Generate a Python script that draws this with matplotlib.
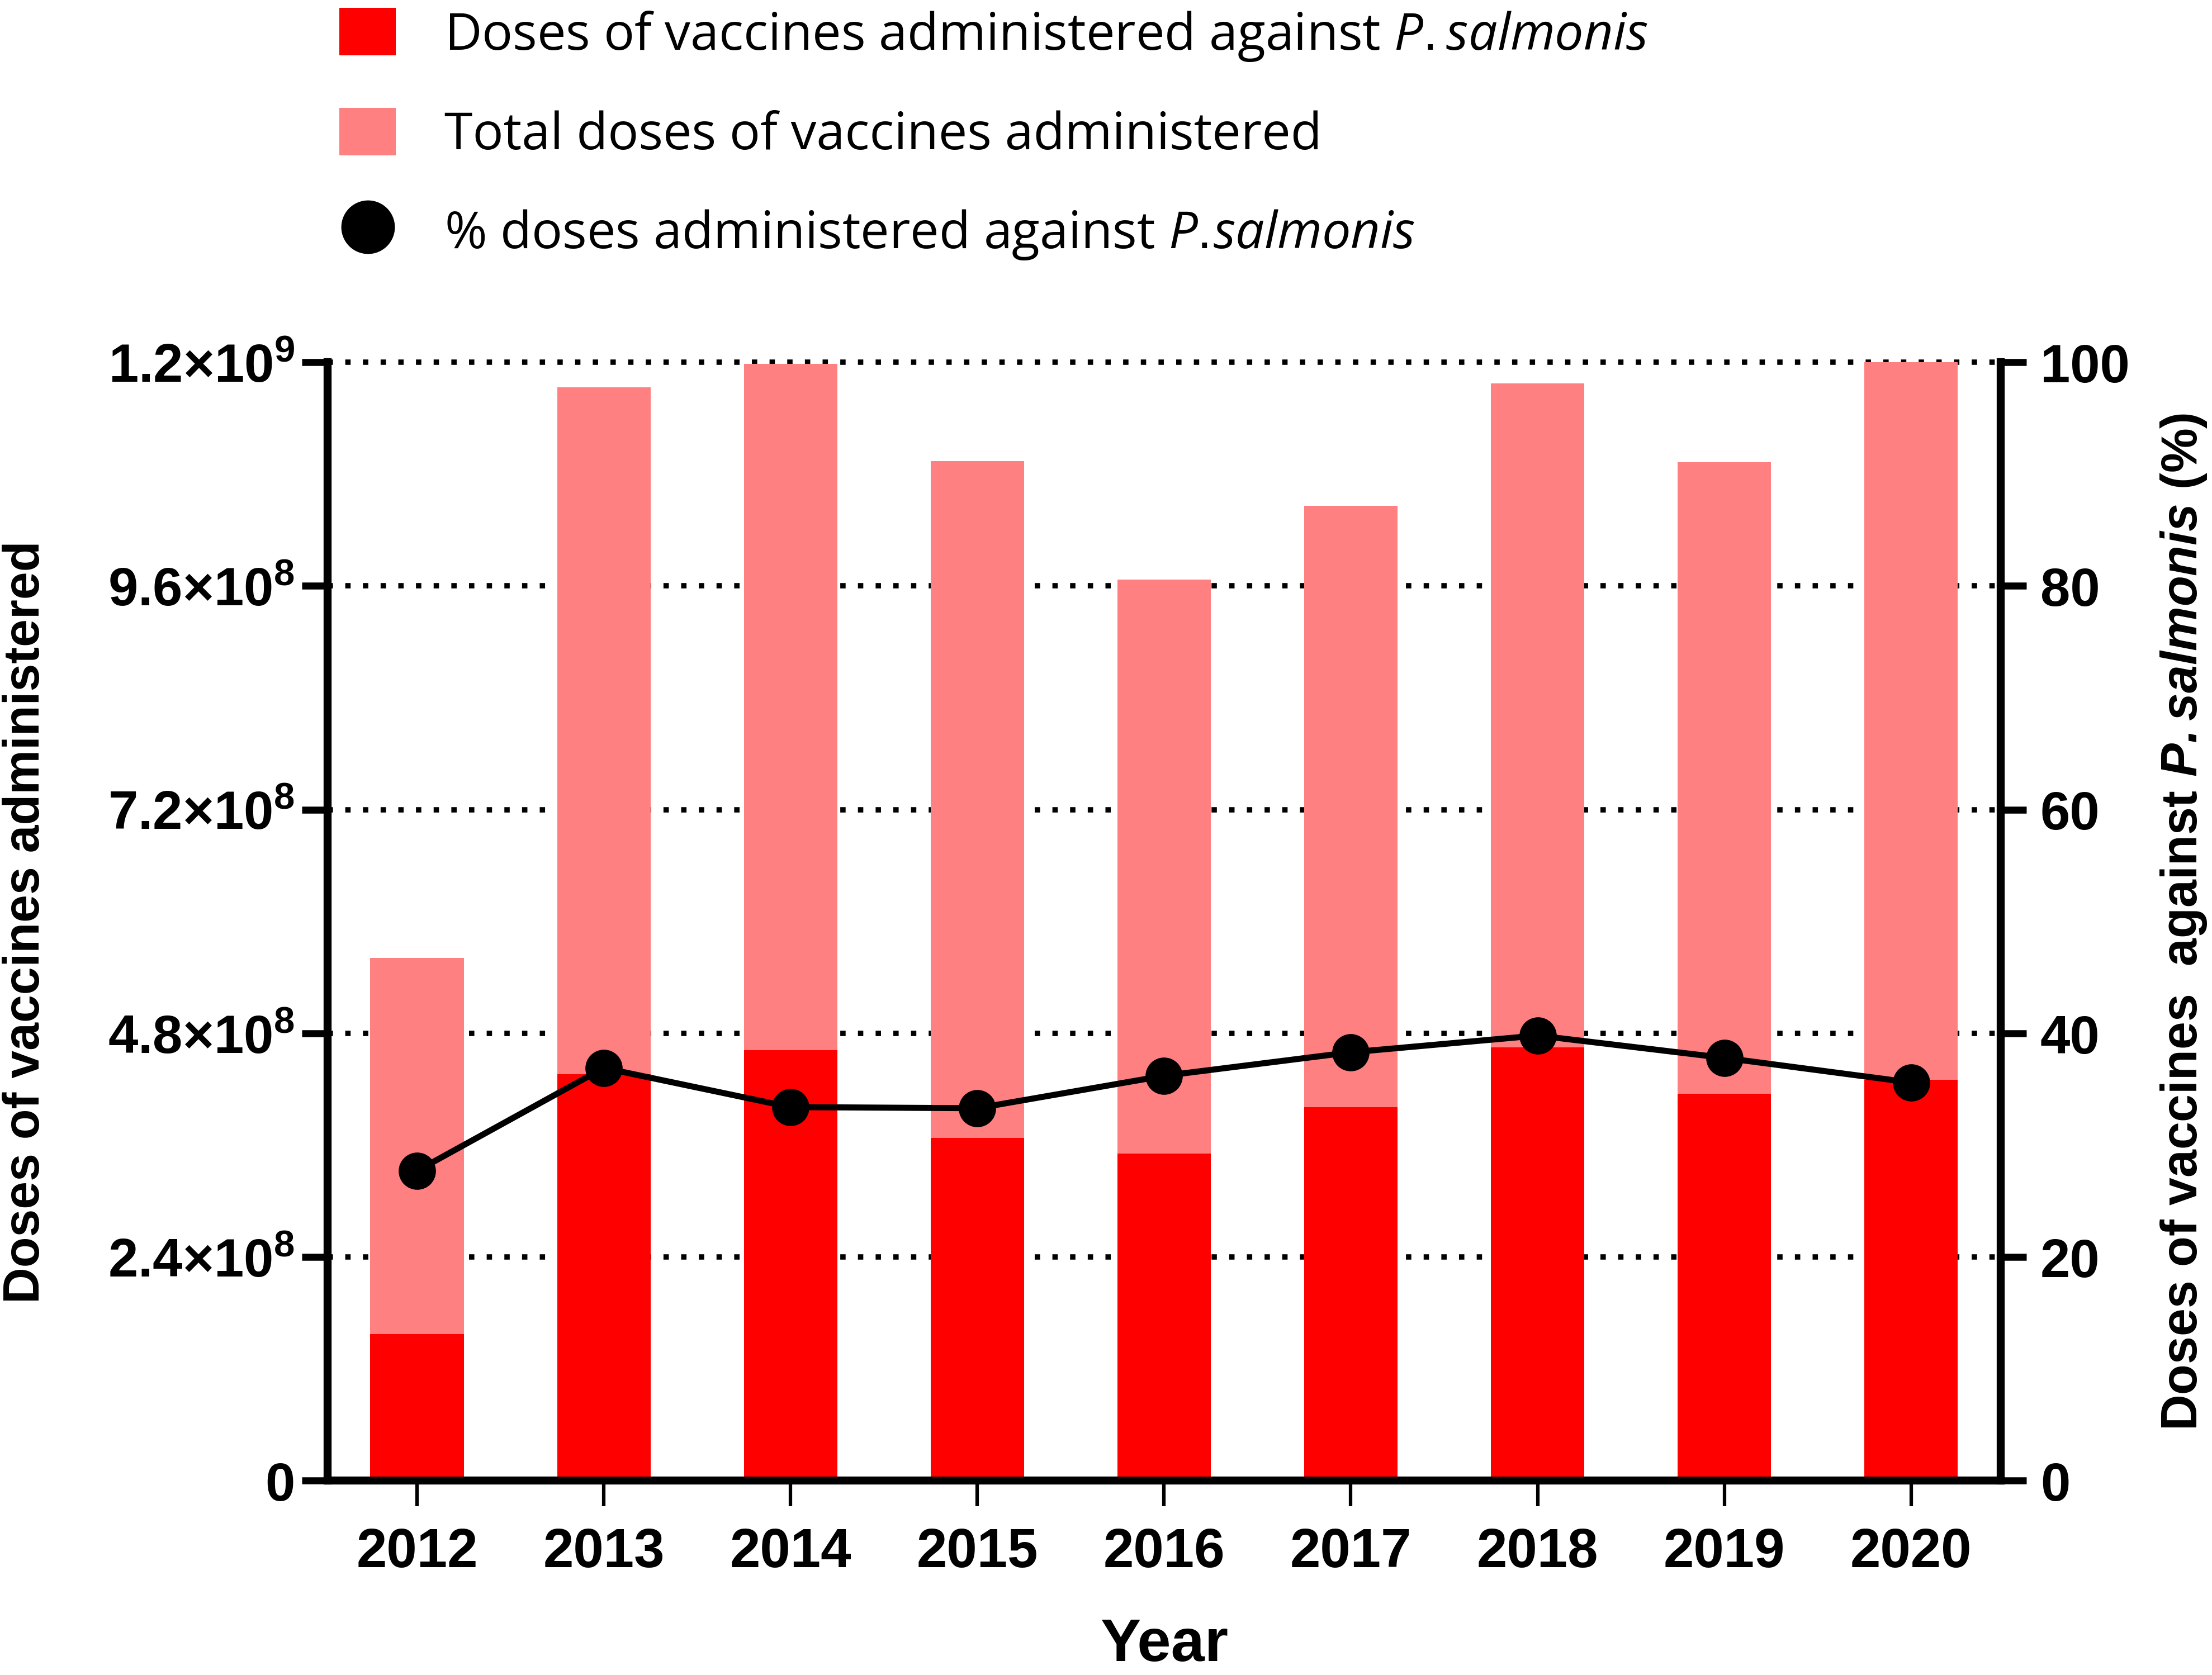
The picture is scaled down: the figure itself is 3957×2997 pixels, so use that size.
import matplotlib
matplotlib.use("Agg")
import matplotlib.pyplot as plt
from matplotlib.patches import Patch
from matplotlib.lines import Line2D

# values
years = ["2012", "2013", "2014", "2015", "2016", "2017", "2018", "2019", "2020"]
total_doses = [5.61e8, 1.173e9, 1.198e9, 1.094e9, 9.67e8, 1.046e9, 1.177e9, 1.093e9, 1.2e9]
psalmonis_doses = [1.57e8, 4.36e8, 4.62e8, 3.68e8, 3.51e8, 4.01e8, 4.65e8, 4.15e8, 4.30e8]
pct_psalmonis = [27.7, 36.9, 33.4, 33.3, 36.2, 38.3, 39.8, 37.8, 35.6]

left_ticks = [0, 2.4e8, 4.8e8, 7.2e8, 9.6e8, 1.2e9]
left_ticklabels = ["0", r"2.4×10$^{\mathbf{8}}$", r"4.8×10$^{\mathbf{8}}$", r"7.2×10$^{\mathbf{8}}$",
                   r"9.6×10$^{\mathbf{8}}$", r"1.2×10$^{\mathbf{9}}$"]
right_ticks = [0, 20, 40, 60, 80, 100]

plt.rcParams['font.family'] = ['Liberation Sans', 'DejaVu Sans']
plt.rcParams['mathtext.fontset'] = 'custom'
plt.rcParams['mathtext.rm'] = 'Liberation Sans'
plt.rcParams['mathtext.bf'] = 'Liberation Sans:bold'
plt.rcParams['mathtext.it'] = 'Open Sans:italic'
try:
    plt.rcParams['mathtext.bfit'] = 'Liberation Sans:italic:bold'
    bfit = True
except KeyError:
    bfit = False

RED = "#ff0000"
PINK = "#ff8080"

fig = plt.figure(figsize=(13.19, 9.993), dpi=300)
ax = fig.add_axes([0.148, 0.116, 0.7565, 0.6675])

x = list(range(len(years)))
ax.bar(x, total_doses, width=0.5, color=PINK, zorder=2)
ax.bar(x, psalmonis_doses, width=0.5, color=RED, zorder=3)

ax.set_xlim(-0.48, 8.48)
ax.set_ylim(0, 1.2e9)
ax.set_yticks(left_ticks)
ax.set_yticklabels(left_ticklabels, fontsize=23, fontweight='bold')
ax.set_xticks(x)
ax.set_xticklabels(years, fontsize=23.5, fontweight='bold')

ax.set_axisbelow(True)
ax.yaxis.grid(True, color='black', linestyle=(0, (1, 2.3)), linewidth=2.3, zorder=1, clip_on=False)

for side in ['left', 'bottom', 'right']:
    ax.spines[side].set_linewidth(3.4)
ax.spines['top'].set_visible(False)
ax.tick_params(axis='y', direction='out', length=11, width=3, pad=3)
ax.tick_params(axis='x', direction='out', length=11, width=1.5, pad=9)

ax.set_ylabel("Doses of vaccines administered", fontsize=21.5, fontweight='bold')
ax.yaxis.set_label_coords(-0.166, 0.5)
ax.set_xlabel("Year", fontsize=26, fontweight='bold')
ax.xaxis.set_label_coords(0.5, -0.122)

ax2 = ax.twinx()
ax2.set_ylim(0, 100)
ax2.set_yticks(right_ticks)
ax2.set_yticklabels([str(t) for t in right_ticks], fontsize=23, fontweight='bold')
ax2.tick_params(axis='y', which='major', right=True, direction='out', length=11, width=3, pad=6)
for side in ['left', 'bottom', 'right']:
    ax2.spines[side].set_linewidth(3.4)
ax2.spines['top'].set_visible(False)
ax2.plot(x, pct_psalmonis, color='black', linewidth=2.6, marker='o', markersize=15, zorder=5)
if bfit:
    rlabel = r"Doses of vaccines  against $\mathbfit{P.salmonis}$ (%)"
else:
    rlabel = "Doses of vaccines  against P. salmonis (%)"
ax2.set_ylabel(rlabel, fontsize=21.5, fontweight='bold', rotation=90)
ax2.yaxis.set_label_coords(1.0945, 0.5)

handles = [Patch(facecolor=RED, edgecolor='none'),
           Patch(facecolor=PINK, edgecolor='none'),
           Line2D([], [], color='black', marker='o', linestyle='none', markersize=22)]
labels = [r"Doses of vaccines administered against $\it{P.salmonis}$",
          "Total doses of vaccines administered",
          r"% doses administered against $\it{P.\!salmonis}$"]
fig.legend(handles, labels, loc='upper left', bbox_to_anchor=(0.1535, 0.995), frameon=False,
           prop={'family': 'Open Sans', 'size': 22}, handlelength=1.1, handleheight=1.05,
           handletextpad=0.95, labelspacing=0.88, borderpad=0, borderaxespad=0)

fig.savefig("out.png", dpi=300)
